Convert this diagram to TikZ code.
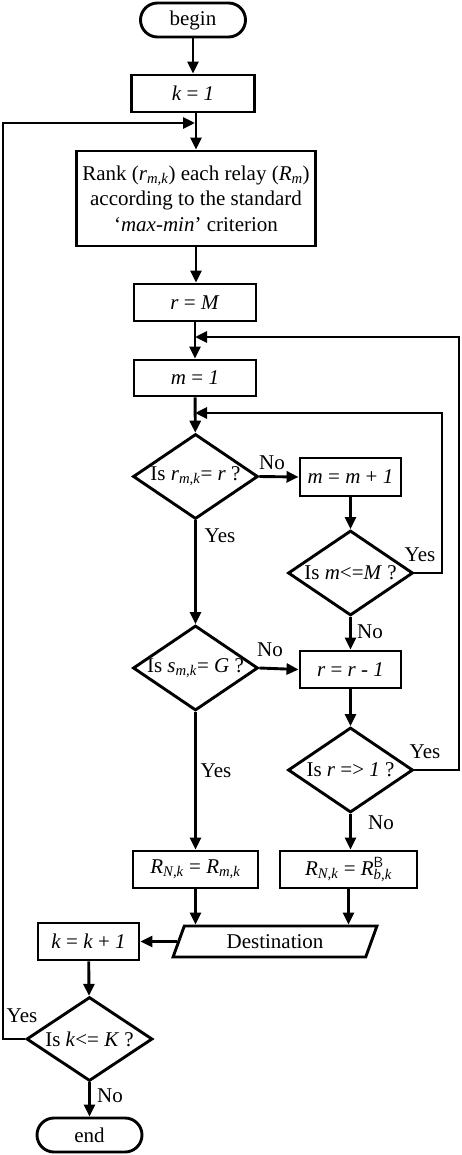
\documentclass[tikz,border=0pt]{standalone}
\usepackage{fontspec}
\setmainfont{Liberation Serif}
\usetikzlibrary{shapes.geometric,arrows.meta,calc}
\newcommand\myfs{\fontsize{21}{25.5}\selectfont}
\newcommand\ii[1]{\textit{#1}}
\newcommand\sub[1]{\textsubscript{\textit{#1}}}
\tikzset{
  base/.style={draw, line width=2.9pt, inner sep=0pt, font=\myfs},
  term/.style={base, rounded corners=17pt, minimum width=105pt, minimum height=34pt},
  proc/.style={base, rectangle, minimum height=37pt},
  dec/.style={base, diamond, minimum width=125pt, minimum height=85pt},
  io/.style={base, trapezium, trapezium left angle=67, trapezium right angle=113,
             trapezium stretches=true, minimum width=204pt, minimum height=31pt},
  arr/.style={line width=2.9pt, -{Triangle[length=12pt,width=11pt]}},
  lbl/.style={font=\myfs, inner sep=0pt}
}
\begin{document}
\begin{tikzpicture}[x=1pt,y=-1pt]
\useasboundingbox (0,0) rectangle (462,1155);
% nodes
\node[term] (begin) at (193,20) {begin};
\node[proc, minimum width=123pt] (k1) at (193,93.5) {\ii{k} = \ii{1}};
\node[proc, minimum width=239pt, minimum height=95pt, align=center] (rank) at (196,198.5)
  {Rank (\ii{r}\sub{m,k}) each relay (\ii{R}\sub{m})\\according to the standard\\‘\ii{max-min}’ criterion};
\node[proc, minimum width=122pt] (rM) at (195,302.5) {\ii{r} = \ii{M}};
\node[proc, minimum width=122pt, minimum height=36pt] (m1) at (195,378) {\ii{m} = \ii{1}};
\node[dec] (d1) at (195.5,476.5) {\makebox[0pt]{Is \ii{r}\sub{m,k}= \ii{r} ?}};
\node[proc, minimum width=101pt, minimum height=38pt] (mm1) at (350.5,477) {\ii{m} = \ii{m} + \ii{1}};
\node[dec] (d2) at (350.5,573) {\makebox[0pt]{Is \ii{m}<=\ii{M} ?}};
\node[dec] (ds) at (195.5,668) {\makebox[0pt]{Is \ii{s}\sub{m,k}= \ii{G} ?}};
\node[proc, minimum width=101pt] (rr1) at (350.5,669.5) {\ii{r} = \ii{r} - \ii{1}};
\node[dec] (d3) at (350.5,770) {\makebox[0pt]{Is \ii{r} => \ii{1} ?}};
\node[proc, minimum width=125pt] (rb1) at (195.5,869.5) {\ii{R}\sub{N,k} = \ii{R}\sub{m,k}};
\node[proc, minimum width=137pt] (rb2) at (348.5,869.5)
  {\ii{R}\sub{N,k} = \ii{R}\rlap{\raisebox{1pt}{\textsuperscript{\sffamily B}}}\raisebox{-1pt}{\sub{b,k}}};
\node[io] (dest) at (275,941.5) {Destination};
\node[proc, minimum width=101pt] (kinc) at (88.5,941.5) {\ii{k} = \ii{k} + \ii{1}};
\node[dec, minimum width=126pt, minimum height=84pt] (d4) at (89.5,1039) {\makebox[0pt]{Is \ii{k}<= \ii{K} ?}};
\node[term] (end) at (89.5,1135) {end};
% junctions
\coordinate (j1) at (195,123);
\coordinate (j2) at (195,337);
\coordinate (j3) at (195,413);
\coordinate (lx) at (3,0);
\coordinate (rx2) at (459,0);
\coordinate (rx3) at (442,0);
% connectors
\draw[arr] (begin) -- (k1);
\draw[arr] (k1.south -| rank.north) -- (rank.north);
\draw[arr] (rank) -- (rank.south |- rM.north);
\draw[arr] (rM) -- (m1);
\draw[arr] (m1) -- (d1);
\draw[arr] (d1) -- (ds);
\draw[arr] (ds) -- (rb1);
\draw[arr] (d1.east) -- (mm1.west);
\draw[arr] (mm1) -- (d2);
\draw[arr] (d2) -- (rr1);
\draw[arr] (ds.east) -- (rr1.west);
\draw[arr] (rr1) -- (d3);
\draw[arr] (d3) -- (d3.south |- rb2.north);
\draw[arr] (rb1.south) -- (rb1.south |- dest.north);
\draw[arr] (rb2.south) -- (rb2.south |- dest.north);
\draw[arr] (dest.west) -- (kinc.east);
\draw[arr] (kinc) -- (d4);
\draw[arr] (d4) -- (end);
\draw[arr] (d2.east) -- (d2.east -| rx3) |- (j3);
\draw[arr] (d3.east) -- (d3.east -| rx2) |- (j2);
\draw[arr] (d4.west) -- (d4.west -| lx) |- (j1);
% labels
\node[lbl] at (272,463) {No};
\node[lbl] at (220,536) {Yes};
\node[lbl] at (420,555) {Yes};
\node[lbl] at (370,632) {No};
\node[lbl] at (270,650) {No};
\node[lbl] at (216,771) {Yes};
\node[lbl] at (425,752) {Yes};
\node[lbl] at (381,823) {No};
\node[lbl] at (22,1016) {Yes};
\node[lbl] at (110,1096) {No};
\end{tikzpicture}
\end{document}
